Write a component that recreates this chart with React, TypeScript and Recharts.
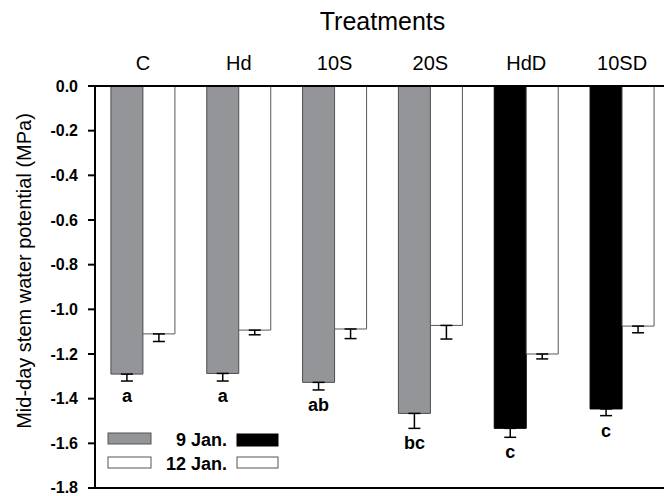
import {
  BarChart,
  Bar,
  XAxis,
  YAxis,
  ErrorBar,
  Cell,
  LabelList,
  Legend,
  ReferenceLine,
} from 'recharts';

const treatments = ['C', 'Hd', '10S', '20S', 'HdD', '10SD'];
// treatments drawn with black bars on the first date
const droughtTreatments = ['HdD', '10SD'];

const jan9 = [-1.29, -1.287, -1.327, -1.466, -1.533, -1.446];
const jan9Err = [0.031, 0.034, 0.034, 0.067, 0.04, 0.03];
const jan12 = [-1.11, -1.093, -1.088, -1.072, -1.2, -1.075];
const jan12Err = [0.034, 0.021, 0.043, 0.061, 0.022, 0.03];
const letters = ['a', 'a', 'ab', 'bc', 'c', 'c'];

const seriesNames = ['9 Jan.', '12 Jan.'];
const yTicks = [0, -0.2, -0.4, -0.6, -0.8, -1.0, -1.2, -1.4, -1.6, -1.8];

const FONT = '"Liberation Sans", Arial, Helvetica, sans-serif';
const GRAY = '#939598';

const data = treatments.map((t, i) => ({
  treatment: t,
  jan9: jan9[i],
  jan9Err: [jan9Err[i], 0],
  jan12: jan12[i],
  jan12Err: [jan12Err[i], 0],
}));

// letter under each 9 Jan. bar, placed below the error bar
function LetterLabel(props: any) {
  const { x, y, width, height, index } = props;
  const top = Math.min(y, y + height);
  const h = Math.abs(height);
  const pxPerUnit = h / Math.abs(jan9[index]);
  const capY = top + h + jan9Err[index] * pxPerUnit;
  return (
    <text
      x={x + width / 2}
      y={capY + 21}
      textAnchor="middle"
      fontFamily={FONT}
      fontSize={18}
      fontWeight="bold"
      fill="#000"
    >
      {letters[index]}
    </text>
  );
}

function DateLegend() {
  return (
    <svg width={200} height={50} style={{ display: 'block', fontFamily: FONT }}>
      <rect x={8} y={8} width={43} height={11} fill={GRAY} stroke="#555" />
      <text x={127} y={21} textAnchor="end" fontSize={18} fontWeight="bold" fill="#000">
        {seriesNames[0]}
      </text>
      <rect x={137} y={9} width={41} height={12} fill="#000" stroke="#000" />
      <rect x={8} y={32} width={43} height={11} fill="#fff" stroke="#555" />
      <text x={127} y={45} textAnchor="end" fontSize={18} fontWeight="bold" fill="#000">
        {seriesNames[1]}
      </text>
      <rect x={137} y={32} width={41} height={11} fill="#fff" stroke="#555" />
    </svg>
  );
}

function YTitle(props: any) {
  const cx = 24;
  const cy = 271;
  return (
    <text
      x={cx}
      y={cy}
      transform={`rotate(-90, ${cx}, ${cy})`}
      textAnchor="middle"
      dominantBaseline="central"
      fontFamily={FONT}
      fontSize={20}
      fill="#000"
    >
      Mid-day stem water potential (MPa)
    </text>
  );
}

export default function App() {
  return (
    <div
      style={{
        position: 'fixed',
        left: 0,
        top: 0,
        width: 664,
        height: 496,
        overflow: 'hidden',
        background: '#fff',
      }}
    >
      <BarChart
        width={672}
        height={496}
        data={data}
        margin={{ top: 56, right: 2, left: 35, bottom: 8 }}
        barCategoryGap="16.6%"
        barGap={0}
        style={{ fontFamily: FONT }}
      >
        <XAxis
          dataKey="treatment"
          orientation="top"
          height={30}
          tickLine={false}
          axisLine={{ stroke: '#000', strokeWidth: 2 }}
          tick={{ fill: '#000', fontSize: 20, fontFamily: FONT }}
          tickMargin={10}
          label={{
            value: 'Treatments',
            position: 'top',
            offset: 26,
            fontSize: 25,
            fill: '#000',
            fontFamily: FONT,
          }}
        />
        <YAxis
          type="number"
          domain={[-1.8, 0]}
          ticks={yTicks}
          allowDataOverflow
          width={60}
          tickSize={7}
          tickMargin={10}
          tickLine={{ stroke: '#000', strokeWidth: 2 }}
          axisLine={{ stroke: '#000', strokeWidth: 2 }}
          tick={{ fill: '#000', fontSize: 16, fontWeight: 'bold', fontFamily: FONT }}
          tickFormatter={(v: number) => v.toFixed(1)}
          label={<YTitle />}
        />
        <ReferenceLine y={-1.8} stroke="#000" strokeWidth={2} />
        <Legend
          layout="vertical"
          align="center"
          verticalAlign="middle"
          content={<DateLegend />}
          wrapperStyle={{ position: 'absolute', left: 100, top: 425, width: 200, height: 50 }}
        />
        <Bar dataKey="jan9" name={seriesNames[0]} isAnimationActive={false} stroke="#4d4d4d" strokeWidth={1}>
          {data.map((d) => (
            <Cell
              key={d.treatment}
              fill={droughtTreatments.includes(d.treatment) ? '#000' : GRAY}
              stroke={droughtTreatments.includes(d.treatment) ? '#000' : '#4d4d4d'}
            />
          ))}
          <ErrorBar dataKey="jan9Err" width={6} strokeWidth={1.5} stroke="#000" direction="y" />
          <LabelList dataKey="jan9" content={<LetterLabel />} />
        </Bar>
        <Bar
          dataKey="jan12"
          name={seriesNames[1]}
          isAnimationActive={false}
          fill="#fff"
          stroke="#5a5a5a"
          strokeWidth={1}
        >
          <ErrorBar dataKey="jan12Err" width={6} strokeWidth={1.5} stroke="#000" direction="y" />
        </Bar>
      </BarChart>
    </div>
  );
}
